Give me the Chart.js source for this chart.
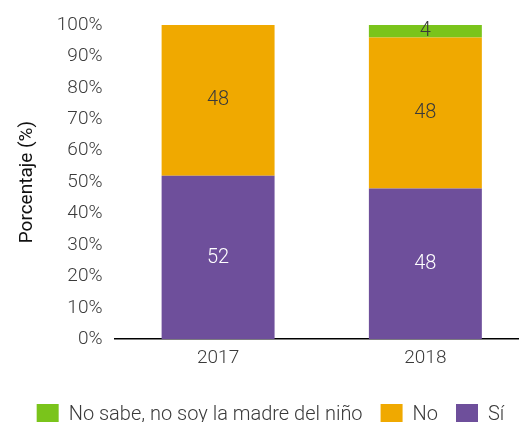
<!DOCTYPE html>
<html>
<head>
<meta charset="utf-8">
<script src="https://cdn.jsdelivr.net/npm/chart.js@4"></script>
<style>
  html, body { margin: 0; padding: 0; background: #fff; overflow: hidden; }
  #wrap { width: 529px; height: 436px; }
</style>
</head>
<body>
<div id="wrap"><canvas id="chart"></canvas></div>
<script>
const YEARS = ['2017', '2018'];
const SI = [52, 48];
const NO = [48, 48];
const NO_SABE = [0, 4];
const Y_TICKS = [0, 10, 20, 30, 40, 50, 60, 70, 80, 90, 100];

const SI_COLOR = '#6e4f9b';
const NO_COLOR = '#f0a900';
const NO_SABE_COLOR = '#7ac41b';
const TEXT_COLOR = '#3a3a3a';
const FONT = 'Roboto';

// draws the value in the middle of each non-empty segment
const segmentLabels = {
  id: 'segmentLabels',
  afterDatasetsDraw(chart) {
    const { ctx } = chart;
    ctx.save();
    ctx.font = `300 20px ${FONT}`;
    ctx.textAlign = 'center';
    ctx.textBaseline = 'middle';
    chart.data.datasets.forEach((ds, i) => {
      ctx.fillStyle = i === 0 ? '#fff' : TEXT_COLOR;
      chart.getDatasetMeta(i).data.forEach((bar, j) => {
        const v = ds.data[j];
        if (!v) return;
        const mid = (bar.y + bar.base) / 2;
        ctx.fillText(String(v), bar.x, mid);
      });
    });
    ctx.restore();
  },
};

Chart.defaults.font.family = FONT;
Chart.defaults.color = TEXT_COLOR;

new Chart(document.getElementById('chart'), {
  type: 'bar',
  data: {
    labels: YEARS,
    datasets: [
      { label: 'Sí', data: SI, backgroundColor: SI_COLOR },
      { label: 'No', data: NO, backgroundColor: NO_COLOR },
      { label: 'No sabe, no soy la madre del niño', data: NO_SABE, backgroundColor: NO_SABE_COLOR },
    ],
  },
  options: {
    responsive: true,
    maintainAspectRatio: false,
    animation: false,
    datasets: { bar: { categoryPercentage: 1, barPercentage: 0.545 } },
    layout: { padding: { top: 25, right: 0, left: 12, bottom: 0 } },
    scales: {
      x: {
        stacked: true,
        grid: { display: false, drawTicks: false },
        border: { display: true, color: '#000', width: 1.5 },
        ticks: { font: { size: 19, weight: 300 }, padding: 8 },
        afterFit(axis) {
          axis.height += 8;
        },
      },
      y: {
        stacked: true,
        min: 0,
        max: 100,
        afterBuildTicks(axis) {
          axis.ticks = Y_TICKS.map((v) => ({ value: v }));
        },
        grid: { display: false, drawTicks: false },
        border: { display: false },
        ticks: {
          font: { size: 19, weight: 300 },
          padding: 12,
          callback: (v) => `${v}%`,
        },
        title: {
          display: true,
          text: 'Porcentaje (%)',
          font: { size: 19, weight: 400 },
          color: '#111',
          padding: { bottom: 6 },
        },
      },
    },
    plugins: {
      legend: {
        position: 'bottom',
        reverse: true,
        labels: {
          boxWidth: 22,
          boxHeight: 22,
          padding: 18,
          font: { size: 20, weight: 300 },
        },
      },
      tooltip: { enabled: false },
    },
  },
  plugins: [segmentLabels],
});
</script>
</body>
</html>
